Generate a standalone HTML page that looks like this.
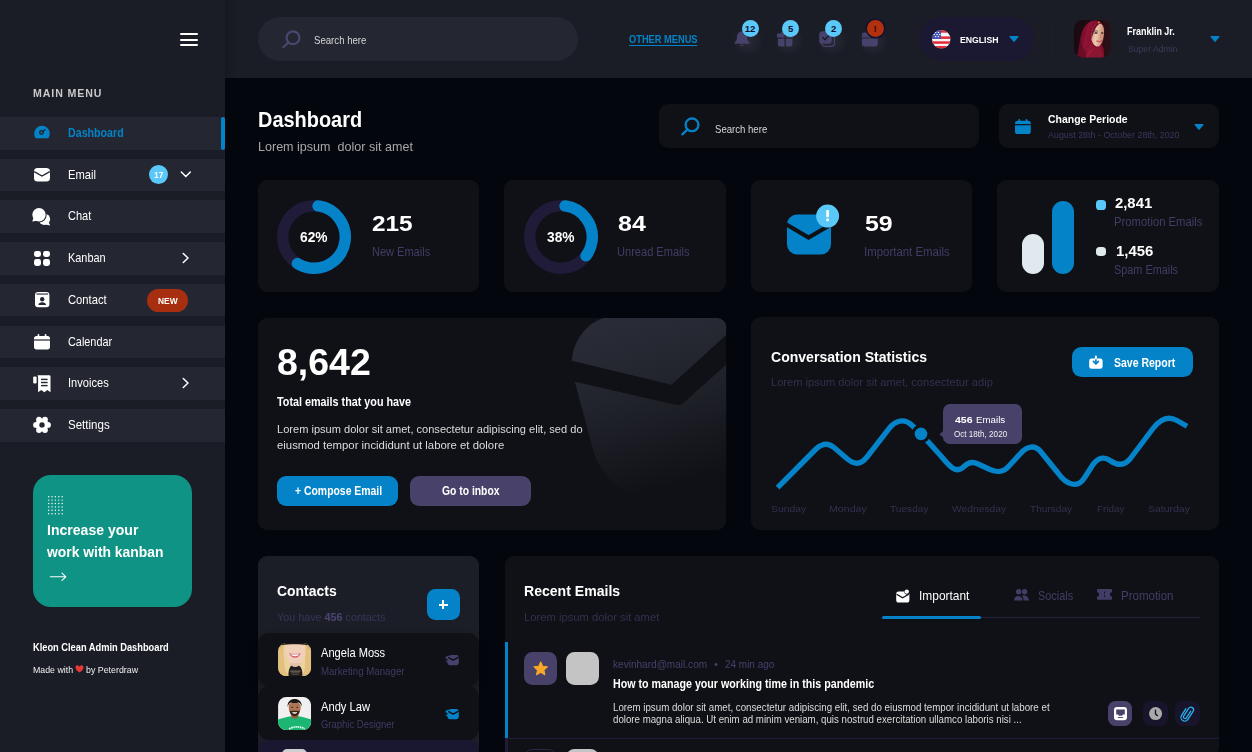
<!DOCTYPE html><html><head><meta charset="utf-8"><title>Dashboard</title><style>
html,body{margin:0;padding:0;background:#04060e;}
html{overflow:hidden;width:1252px;height:752px;}
body{width:1252px;height:752px;overflow:hidden;position:relative;font-family:"Liberation Sans", sans-serif;}
.a{position:absolute;}
.t{position:absolute;white-space:nowrap;line-height:1;transform-origin:0 0;}
svg{position:absolute;overflow:visible;}
#root{position:absolute;left:0;top:0;width:1252px;height:752px;overflow:hidden;}
</style></head><body><div id="root">
<div class="a" style="left:0px;top:0px;width:225px;height:752px;background:#1b1d26;border-radius:0px;"></div>
<div class="a" style="left:225px;top:0px;width:1027px;height:78px;background:#1b1d26;border-radius:0px;"></div>
<div class="a" style="left:225px;top:0;width:14px;height:78px;background:linear-gradient(90deg,rgba(0,0,0,0.16),rgba(0,0,0,0));"></div>
<div class="a" style="left:180px;top:33px;width:17.5px;height:2px;background:#fff;border-radius:1px;"></div>
<div class="a" style="left:180px;top:38.7px;width:17.5px;height:2px;background:#fff;border-radius:1px;"></div>
<div class="a" style="left:180px;top:44.3px;width:17.5px;height:2px;background:#fff;border-radius:1px;"></div>
<div class="a" style="left:0px;top:117px;width:225px;height:32.5px;background:#242731;border-radius:0px;"></div>
<div class="a" style="left:0px;top:158.7px;width:225px;height:32.5px;background:#242731;border-radius:0px;"></div>
<div class="a" style="left:0px;top:200.4px;width:225px;height:32.5px;background:#242731;border-radius:0px;"></div>
<div class="a" style="left:0px;top:242.2px;width:225px;height:32.5px;background:#242731;border-radius:0px;"></div>
<div class="a" style="left:0px;top:283.9px;width:225px;height:32.5px;background:#242731;border-radius:0px;"></div>
<div class="a" style="left:0px;top:325.6px;width:225px;height:32.5px;background:#242731;border-radius:0px;"></div>
<div class="a" style="left:0px;top:367.4px;width:225px;height:32.5px;background:#242731;border-radius:0px;"></div>
<div class="a" style="left:0px;top:409.1px;width:225px;height:32.5px;background:#242731;border-radius:0px;"></div>
<div class="a" style="left:221px;top:117px;width:4px;height:32.5px;background:#0483c8;border-radius:2px;"></div>
<div class="a" style="left:149px;top:164.8px;width:19.3px;height:19.3px;background:#5bc8fa;border-radius:10px;"></div>
<div class="a" style="left:146.6px;top:289px;width:41.3px;height:22.5px;background:#a72e0f;border-radius:12px;"></div>
<div class="a" style="left:34.4px;top:250.6px;width:7px;height:6.9px;background:#fff;border-radius:2.4px;"></div>
<div class="a" style="left:43.2px;top:250.6px;width:7px;height:6.9px;background:#fff;border-radius:2.4px;"></div>
<div class="a" style="left:34.4px;top:259.0px;width:7px;height:6.9px;background:#fff;border-radius:2.4px;"></div>
<div class="a" style="left:43.2px;top:259.0px;width:7px;height:6.9px;background:#fff;border-radius:2.4px;"></div>
<div class="a" style="left:32.6px;top:474.6px;width:159.6px;height:132.1px;background:#0e9384;border-radius:18px;"></div>
<div class="a" style="left:258px;top:17px;width:320px;height:44px;background:#242731;border-radius:22px;"></div>
<div class="a" style="left:733.0px;top:26.3px;width:30px;height:30px;border-radius:50%;background:radial-gradient(closest-side,rgba(70,74,96,0.30),rgba(70,74,96,0));"></div>
<div class="a" style="left:773.7px;top:26.3px;width:30px;height:30px;border-radius:50%;background:radial-gradient(closest-side,rgba(70,74,96,0.30),rgba(70,74,96,0));"></div>
<div class="a" style="left:816.7px;top:26.3px;width:30px;height:30px;border-radius:50%;background:radial-gradient(closest-side,rgba(70,74,96,0.30),rgba(70,74,96,0));"></div>
<div class="a" style="left:858px;top:26.3px;width:30px;height:30px;border-radius:50%;background:radial-gradient(closest-side,rgba(70,74,96,0.30),rgba(70,74,96,0));"></div>
<div class="a" style="left:918.7px;top:16.8px;width:115.1px;height:44.2px;background:#1b1932;border-radius:22.1px;"></div>
<div class="a" style="left:1052px;top:24px;width:1px;height:30px;background:#1e2029;border-radius:0px;"></div>
<div class="a" style="left:659.2px;top:104.4px;width:319.9px;height:43.8px;background:#101116;border-radius:9px;"></div>
<div class="a" style="left:999px;top:104.4px;width:220px;height:43.8px;background:#101116;border-radius:9px;"></div>
<div class="a" style="left:257.5px;top:179.8px;width:221.7px;height:112.6px;background:#101116;border-radius:9px;"></div>
<div class="a" style="left:504px;top:179.8px;width:221.7px;height:112.6px;background:#101116;border-radius:9px;"></div>
<div class="a" style="left:750.6px;top:179.8px;width:221.7px;height:112.6px;background:#101116;border-radius:9px;"></div>
<div class="a" style="left:997px;top:179.8px;width:221.7px;height:112.6px;background:#101116;border-radius:9px;"></div>
<div class="a" style="left:1022px;top:234.3px;width:21.9px;height:39.9px;background:#dfe9ee;border-radius:11px;"></div>
<div class="a" style="left:1052.3px;top:200.6px;width:21.5px;height:73.6px;background:#0483c8;border-radius:11px;"></div>
<div class="a" style="left:1095.8px;top:199.8px;width:9.8px;height:10px;background:#5bc8fa;border-radius:3.6px;"></div>
<div class="a" style="left:1095.8px;top:246.8px;width:9.8px;height:9.6px;background:#dfe9ee;border-radius:3.6px;"></div>
<div class="a" style="left:257.8px;top:317.8px;width:468.2px;height:212.2px;background:#101116;border-radius:9px;overflow:hidden;"></div>
<div class="a" style="left:277px;top:475.6px;width:121.3px;height:30.1px;background:#0483c8;border-radius:9px;"></div>
<div class="a" style="left:410px;top:475.6px;width:121.4px;height:30.1px;background:#48426a;border-radius:9px;"></div>
<div class="a" style="left:751.2px;top:317.4px;width:468px;height:213px;background:#101116;border-radius:9px;"></div>
<div class="a" style="left:1071.8px;top:346.8px;width:121.4px;height:30.7px;background:#0483c8;border-radius:9.5px;"></div>
<div class="a" style="left:942.7px;top:404px;width:78.9px;height:39.9px;background:#48426a;border-radius:7px;"></div>
<div class="a" style="left:257.6px;top:556px;width:221.5px;height:200px;background:#1c1e27;border-radius:9px;"></div>
<div class="a" style="left:426.5px;top:589.3px;width:33.2px;height:30.6px;background:#0483c8;border-radius:8.5px;"></div>
<div class="a" style="left:438.7px;top:603.6px;width:9px;height:2.1px;background:#fff;border-radius:0px;"></div>
<div class="a" style="left:442.15px;top:600.2px;width:2.1px;height:8.8px;background:#fff;border-radius:0px;"></div>
<div class="a" style="left:257.6px;top:633px;width:221.5px;height:52.9px;background:#101116;border-radius:11px;box-shadow:0 4px 8px rgba(0,0,0,0.25);"></div>
<div class="a" style="left:257.6px;top:686.2px;width:221.5px;height:53.6px;background:#101116;border-radius:11px;"></div>
<div class="a" style="left:257.6px;top:739.8px;width:221.5px;height:20px;background:#1a1730;border-radius:11px;"></div>
<div class="a" style="left:281.5px;top:749.4px;width:25px;height:10px;background:#cfcfcf;border-radius:6px;"></div>
<div class="a" style="left:504.6px;top:556px;width:714.8px;height:200px;background:#101116;border-radius:9px;"></div>
<div class="a" style="left:882px;top:616.5px;width:317.8px;height:1px;background:#25223d;border-radius:0px;"></div>
<div class="a" style="left:882px;top:616px;width:98.7px;height:3.2px;background:#0483c8;border-radius:1.5px;"></div>
<div class="a" style="left:504.6px;top:642.3px;width:3.4px;height:96.5px;background:#0483c8;border-radius:0px;"></div>
<div class="a" style="left:524px;top:652.4px;width:33px;height:33px;background:#48426a;border-radius:8.5px;"></div>
<div class="a" style="left:565.9px;top:652.4px;width:33px;height:33px;background:#c4c4c4;border-radius:8.5px;"></div>
<div class="a" style="left:504.6px;top:738px;width:714.8px;height:1px;background:#1f1c36;border-radius:0px;"></div>
<div class="a" style="left:504.6px;top:739px;width:3.4px;height:20px;background:#1f1c36;border-radius:0px;"></div>
<div class="a" style="left:524px;top:749px;width:33px;height:20px;background:#111217;border-radius:8.5px;border:1px solid #2b2846;box-sizing:border-box;"></div>
<div class="a" style="left:565.9px;top:749px;width:33px;height:20px;background:#c4c4c4;border-radius:8.5px;"></div>
<div class="a" style="left:1107.9px;top:701px;width:24.6px;height:24.8px;background:#48426a;border-radius:7.5px;"></div>
<div class="a" style="left:1143.1px;top:701px;width:24.6px;height:24.8px;background:#17142c;border-radius:7.5px;"></div>
<div class="a" style="left:1175.2px;top:701px;width:24.6px;height:24.8px;background:#17142c;border-radius:7.5px;"></div>
<svg style="left:180px;top:170px" width="12" height="9" viewBox="0 0 12 9"><path d="M1.3 2 L5.8 6.6 L10.3 2" fill="none" stroke="#fff" stroke-width="1.5" stroke-linecap="round" stroke-linejoin="round"/></svg>
<svg style="left:181px;top:252.2px" width="9" height="12" viewBox="0 0 9 12"><path d="M2.3 1.5 L7 6 L2.3 10.5" fill="none" stroke="#fff" stroke-width="1.5" stroke-linecap="round" stroke-linejoin="round"/></svg>
<svg style="left:181px;top:377.4px" width="9" height="12" viewBox="0 0 9 12"><path d="M2.3 1.5 L7 6 L2.3 10.5" fill="none" stroke="#fff" stroke-width="1.5" stroke-linecap="round" stroke-linejoin="round"/></svg>
<svg style="left:34px;top:125px" width="16" height="13.4" viewBox="0 0 16 13.4"><path d="M1.7 13.2 A7.8 7.8 0 1 1 14.3 13.2 Z" fill="#0483c8"/><circle cx="7.5" cy="7.6" r="1.75" fill="none" stroke="#242731" stroke-width="1.5"/><path d="M8.9 6.4 L10.9 4.7" stroke="#242731" stroke-width="1.5" stroke-linecap="round"/></svg>
<svg style="left:34px;top:168px" width="16" height="14" viewBox="0 0 16 14"><rect x="0" y="0" width="16" height="13.6" rx="3.6" fill="#fff"/><path d="M0.2 3.6 L8 8 L15.8 3.6" fill="none" stroke="#242731" stroke-width="1.4"/></svg>
<svg style="left:32.4px;top:207.5px" width="19" height="18" viewBox="0 0 19 18"><circle cx="12.4" cy="11.2" r="5.7" fill="#fff"/><path d="M16.6 14.2 L18.2 17.4 L13.6 16.4 Z" fill="#fff"/><circle cx="7" cy="6.7" r="7.7" fill="#242731"/><circle cx="7" cy="6.7" r="6.7" fill="#fff"/><path d="M1.6 9.8 L0.2 13.6 L5 12.8 Z" fill="#fff"/></svg>
<svg style="left:35.3px;top:292.3px" width="15" height="16" viewBox="0 0 15 16"><rect x="0" y="0" width="14.4" height="15.2" rx="3" fill="#fff"/><rect x="1.4" y="1.5" width="11.6" height="1.1" fill="#242731"/><circle cx="7.2" cy="7.2" r="2.2" fill="#242731"/><path d="M3.4 13 C3.4 9.4 11 9.4 11 13 Z" fill="#242731"/></svg>
<svg style="left:34px;top:334px" width="16" height="16" viewBox="0 0 16 16"><rect x="0" y="2" width="16" height="13.4" rx="2.6" fill="#fff"/><rect x="3.6" y="0" width="1.7" height="4" rx="0.8" fill="#fff"/><rect x="10.7" y="0" width="1.7" height="4" rx="0.8" fill="#fff"/><rect x="0" y="5.4" width="16" height="1.2" fill="#242731"/></svg>
<svg style="left:32.8px;top:374.8px" width="18" height="18" viewBox="0 0 18 18"><path d="M4.5 0.2 H16.2 Q17.5 0.2 17.5 1.6 V17.2 L14.4 14.9 L11.3 17.2 L8.2 14.9 L5.1 17.2 V3 Q5 0.6 4.5 0.2 Z" fill="#fff"/><rect x="0.2" y="1.4" width="3.4" height="7" rx="1.2" fill="#fff"/><rect x="8" y="3.7" width="6.6" height="1.4" fill="#242731"/><rect x="8" y="6.8" width="6.6" height="1.4" fill="#242731"/><rect x="8" y="9.9" width="6.6" height="1.4" fill="#242731"/></svg>
<svg style="left:32.5px;top:416.4px" width="18" height="18" viewBox="0 0 18 18"><circle cx="9" cy="8.9" r="6.5" fill="#fff"/><circle cx="15.00" cy="8.90" r="2.9" fill="#fff"/><circle cx="12.00" cy="14.10" r="2.9" fill="#fff"/><circle cx="6.00" cy="14.10" r="2.9" fill="#fff"/><circle cx="3.00" cy="8.90" r="2.9" fill="#fff"/><circle cx="6.00" cy="3.70" r="2.9" fill="#fff"/><circle cx="12.00" cy="3.70" r="2.9" fill="#fff"/><circle cx="9" cy="8.9" r="2.7" fill="#242731"/></svg>
<svg style="left:48px;top:496px" width="16" height="19" viewBox="0 0 16 19"><circle cx="0.70" cy="0.70" r="0.72" fill="#ffffff"/><circle cx="4.06" cy="0.70" r="0.72" fill="#ffffff"/><circle cx="7.42" cy="0.70" r="0.72" fill="#ffffff"/><circle cx="10.78" cy="0.70" r="0.72" fill="#ffffff"/><circle cx="14.14" cy="0.70" r="0.72" fill="#ffffff"/><circle cx="0.70" cy="4.10" r="0.72" fill="#ffffff"/><circle cx="4.06" cy="4.10" r="0.72" fill="#ffffff"/><circle cx="7.42" cy="4.10" r="0.72" fill="#ffffff"/><circle cx="10.78" cy="4.10" r="0.72" fill="#ffffff"/><circle cx="14.14" cy="4.10" r="0.72" fill="#ffffff"/><circle cx="0.70" cy="7.50" r="0.72" fill="#ffffff"/><circle cx="4.06" cy="7.50" r="0.72" fill="#ffffff"/><circle cx="7.42" cy="7.50" r="0.72" fill="#ffffff"/><circle cx="10.78" cy="7.50" r="0.72" fill="#ffffff"/><circle cx="14.14" cy="7.50" r="0.72" fill="#ffffff"/><circle cx="0.70" cy="10.90" r="0.72" fill="#ffffff"/><circle cx="4.06" cy="10.90" r="0.72" fill="#ffffff"/><circle cx="7.42" cy="10.90" r="0.72" fill="#ffffff"/><circle cx="10.78" cy="10.90" r="0.72" fill="#ffffff"/><circle cx="14.14" cy="10.90" r="0.72" fill="#ffffff"/><circle cx="0.70" cy="14.30" r="0.72" fill="#ffffff"/><circle cx="4.06" cy="14.30" r="0.72" fill="#ffffff"/><circle cx="7.42" cy="14.30" r="0.72" fill="#ffffff"/><circle cx="10.78" cy="14.30" r="0.72" fill="#ffffff"/><circle cx="14.14" cy="14.30" r="0.72" fill="#ffffff"/><circle cx="0.70" cy="17.70" r="0.72" fill="#ffffff"/><circle cx="4.06" cy="17.70" r="0.72" fill="#ffffff"/><circle cx="7.42" cy="17.70" r="0.72" fill="#ffffff"/><circle cx="10.78" cy="17.70" r="0.72" fill="#ffffff"/><circle cx="14.14" cy="17.70" r="0.72" fill="#ffffff"/></svg>
<svg style="left:50px;top:572px" width="17" height="10" viewBox="0 0 17 10"><path d="M0.3 4.8 H15.6 M12 1.2 L15.8 4.8 L12 8.4" fill="none" stroke="#fff" stroke-width="1.1" stroke-linecap="round" stroke-linejoin="round"/></svg>
<svg style="left:75.3px;top:665px" width="9" height="8" viewBox="0 0 9 8"><path d="M4.5 7.6 C-1.5 3.6 0.4 -0.4 2.6 0.2 C3.6 0.4 4.2 1.1 4.5 1.7 C4.8 1.1 5.4 0.4 6.4 0.2 C8.6 -0.4 10.5 3.6 4.5 7.6 Z" fill="#e53935"/></svg>
<svg style="left:281.6px;top:30.2px" width="20" height="19" viewBox="0 0 20 19"><circle cx="11" cy="7.8" r="6.4" fill="none" stroke="#4b4571" stroke-width="2.2"/><path d="M6.3 12.6 L1.3 17.3" stroke="#4b4571" stroke-width="2.2" stroke-linecap="round"/></svg>
<svg style="left:734.3px;top:30.8px" width="16" height="16" viewBox="0 0 16 16"><path d="M8 0.4 C4.6 0.4 3 3 3 6 C3 9.4 1.6 10.6 0.6 11.6 Q0 12.6 1.2 12.8 H14.8 Q16 12.6 15.4 11.6 C14.4 10.6 13 9.4 13 6 C13 3 11.4 0.4 8 0.4 Z" fill="#47426b"/><path d="M5.8 13.8 Q8 16.4 10.2 13.8 Z" fill="#47426b"/></svg>
<svg style="left:777.2px;top:31.4px" width="16.4" height="16" viewBox="0 0 16.4 16"><path d="M1.4 2.6 H7.5 V6.4 H0 V4 Q0 2.6 1.4 2.6 Z" fill="#47426b"/><path d="M8.9 2.6 H15 Q16.4 2.6 16.4 4 V6.4 H8.9 Z" fill="#47426b"/><path d="M1 7.7 H7.5 V15.6 H3 Q1 15.6 1 13.6 Z" fill="#47426b"/><path d="M8.9 7.7 H15.4 V13.6 Q15.4 15.6 13.4 15.6 H8.9 Z" fill="#47426b"/><path d="M8.2 2.8 C5.4 -0.8 3 1.4 5.2 2.9 Z M8.2 2.8 C11 -0.8 13.4 1.4 11.2 2.9 Z" fill="#47426b"/></svg>
<svg style="left:818.6px;top:30.8px" width="16" height="16" viewBox="0 0 16 16"><rect x="2.6" y="2.8" width="12.8" height="12.6" rx="3.4" fill="none" stroke="#47426b" stroke-width="1.2"/><rect x="0.2" y="0.2" width="12.6" height="12.6" rx="3.4" fill="#47426b"/><path d="M3.8 6.6 L6 8.8 L9.6 4.6" fill="none" stroke="#1b1d26" stroke-width="1.4" stroke-linecap="round" stroke-linejoin="round"/></svg>
<svg style="left:861.5px;top:31.8px" width="16" height="15" viewBox="0 0 16 15"><path d="M0 3 Q0 0.6 2.4 0.6 H5.6 L7.2 2.4 H13.4 Q15.8 2.4 15.8 4.8 V5.4 H0 Z" fill="#47426b"/><path d="M0 6.6 H15.8 V12 Q15.8 14.4 13.4 14.4 H2.4 Q0 14.4 0 12 Z" fill="#47426b"/></svg>
<svg style="left:931.6px;top:30.2px" width="18.6" height="18.6" viewBox="0 0 18.6 18.6"><defs><clipPath id="fc"><circle cx="9.3" cy="9.3" r="9.25"/></clipPath></defs><g clip-path="url(#fc)"><rect width="18.6" height="18.6" fill="#f4f4f4"/><g fill="#e32b3a"><rect y="0" width="18.6" height="2.7"/><rect y="6.4" width="18.6" height="2.5"/><rect y="11.3" width="18.6" height="2.5"/><rect y="16" width="18.6" height="2.6"/></g><rect width="9" height="8.9" fill="#3f51b5"/><g fill="#fff"><rect x="3" y="1.9" width="1.3" height="1.1"/><rect x="5.8" y="1.9" width="1.3" height="1.1"/><rect x="1.6" y="4" width="1.3" height="1.1"/><rect x="4.4" y="4" width="1.3" height="1.1"/><rect x="7" y="4" width="1.3" height="1.1"/><rect x="3" y="6.1" width="1.3" height="1.1"/><rect x="5.8" y="6.1" width="1.3" height="1.1"/></g></g></svg>
<svg style="left:1009px;top:36.4px" width="10" height="5.9" viewBox="0 0 10 5.9"><path d="M1 0.6 H9 L5 5.3 Z" fill="#0483c8" stroke="#0483c8" stroke-width="1.1" stroke-linejoin="round"/></svg>
<svg style="left:1074.1px;top:20px" width="37" height="37.4" viewBox="0 0 37 37.4"><defs><clipPath id="av0"><rect width="37" height="37.4" rx="8.5"/></clipPath><filter id="bl0" x="-10%" y="-10%" width="120%" height="120%"><feGaussianBlur stdDeviation="0.55"/></filter><linearGradient id="g0" x1="0" y1="0" x2="1" y2="0"><stop offset="0" stop-color="#1a0a0f"/><stop offset="0.6" stop-color="#1f0c12"/><stop offset="1" stop-color="#2b1117"/></linearGradient><linearGradient id="hj" x1="0" y1="0" x2="1" y2="0.3"><stop offset="0" stop-color="#4a0a1c"/><stop offset="0.45" stop-color="#8e1233"/><stop offset="1" stop-color="#7a0f2c"/></linearGradient><linearGradient id="sk" x1="0" y1="0" x2="1" y2="0.2"><stop offset="0" stop-color="#c9957c"/><stop offset="0.45" stop-color="#efc9b0"/><stop offset="1" stop-color="#c58e78"/></linearGradient></defs><g clip-path="url(#av0)"><rect width="37" height="37.4" fill="url(#g0)"/><g filter="url(#bl0)"><path d="M2 38 C5 33 5 24 6.8 16 C8.5 7 14 0.6 21 0.4 C25.5 0.3 28.5 3 29.5 7 C31 13 30 20 28 25 C30 28 30.5 32 29.5 38 Z" fill="url(#hj)"/><path d="M6.8 16 C7 26 10 31 17 38 L2 38 C5 33 5.5 24 6.8 16 Z" fill="#5c0c22" opacity="0.7"/><path d="M18.2 11 C19.5 5.5 23 2.8 26 3.4 C29.5 4.2 30.6 9 30 14 C29.4 19.5 27.6 24.5 25 26.2 C22 27.6 19 24.5 17.6 20.5 C16.8 17.4 17.4 14 18.2 11 Z" fill="url(#sk)"/><path d="M18.2 11 C19.4 5 23.5 2 26.6 3 C24 4.6 21.6 7.4 20 11.6 C19 14.6 18 17 17.5 19.6 C17 16.4 17.5 13.6 18.2 11 Z" fill="#7c0f2d"/><ellipse cx="22" cy="13" rx="1.7" ry="0.8" fill="#2a1a18"/><ellipse cx="28.2" cy="13" rx="1.3" ry="0.75" fill="#2a1a18"/><path d="M20 11.4 Q22 10.2 24 11.2" stroke="#3a2420" stroke-width="0.7" fill="none"/><path d="M22.6 21 Q25.4 22.8 28 20.8 Q25.4 22 22.6 21 Z" fill="#c4505a" stroke="#c4505a" stroke-width="0.8"/><path d="M26.4 14 L27 18 L25.4 18.2" stroke="#b98068" stroke-width="0.7" fill="none"/><path d="M17.6 20.5 C19 26 23 29 26 26 C28 30 29 33 29.5 38 L12 38 C11 30 14 24 17.6 20.5 Z" fill="#8a1232"/><path d="M12 38 C13 32 17 28 22 29 C18 31 15 34 14.5 38 Z" fill="#a3173c" opacity="0.8"/><circle cx="24.8" cy="2.3" r="0.9" fill="#d9a73a"/></g></g></svg>
<svg style="left:1209.7px;top:35.9px" width="10" height="5.9" viewBox="0 0 10 5.9"><path d="M1 0.6 H9 L5 5.3 Z" fill="#0483c8" stroke="#0483c8" stroke-width="1.1" stroke-linejoin="round"/></svg>
<svg style="left:680.6px;top:117.1px" width="20" height="19" viewBox="0 0 20 19"><circle cx="11" cy="7.8" r="6.4" fill="none" stroke="#0483c8" stroke-width="2.3"/><path d="M6.3 12.6 L1.3 17.3" stroke="#0483c8" stroke-width="2.3" stroke-linecap="round"/></svg>
<svg style="left:1015.3px;top:119px" width="16" height="15.2" viewBox="0 0 16 15.2"><rect x="0" y="1.8" width="15.8" height="13.2" rx="2.6" fill="#0483c8"/><rect x="3.4" y="0" width="1.7" height="4" rx="0.8" fill="#0483c8"/><rect x="10.7" y="0" width="1.7" height="4" rx="0.8" fill="#0483c8"/><rect x="0" y="5.1" width="15.8" height="1.2" fill="#101116"/></svg>
<svg style="left:1193.8px;top:123.8px" width="10" height="5.9" viewBox="0 0 10 5.9"><path d="M1 0.6 H9 L5 5.3 Z" fill="#0483c8" stroke="#0483c8" stroke-width="1.1" stroke-linejoin="round"/></svg>
<svg style="left:273.9px;top:196.5px" width="80" height="80" viewBox="-40 -40 80 80"><circle r="31.3" fill="none" stroke="#1f1b38" stroke-width="11.4"/><circle r="31.3" fill="none" stroke="#0483c8" stroke-width="11.4" stroke-linecap="round" stroke-dasharray="111.70 196.66" transform="rotate(-82.6)"/></svg>
<svg style="left:520.7px;top:196.5px" width="80" height="80" viewBox="-40 -40 80 80"><circle r="31.3" fill="none" stroke="#1f1b38" stroke-width="11.4"/><circle r="31.3" fill="none" stroke="#0483c8" stroke-width="11.4" stroke-linecap="round" stroke-dasharray="65.29 196.66" transform="rotate(-82.6)"/></svg>
<svg style="left:786.6px;top:203px" width="56" height="52" viewBox="0 0 56 52"><rect x="0" y="11.6" width="44" height="39.8" rx="10" fill="#0483c8"/><path d="M-1 21.3 L21.6 34.6 L45 21" fill="none" stroke="#101116" stroke-width="4.2"/><circle cx="40.6" cy="13.1" r="11.5" fill="#5bc8fa"/><rect x="39.3" y="7" width="2.6" height="7.2" rx="0.6" fill="#fff"/><rect x="39.3" y="15.6" width="2.6" height="2.6" rx="0.6" fill="#fff"/></svg>
<svg style="left:257.8px;top:317.8px" width="468.2" height="212.2" viewBox="257.8 317.8 468.2 212.2"><defs><clipPath id="bc"><rect x="257.8" y="317.8" width="468.2" height="212.2" rx="9"/></clipPath><linearGradient id="eg" gradientUnits="userSpaceOnUse" x1="640" y1="318" x2="690" y2="480"><stop offset="0" stop-color="#292b36"/><stop offset="0.4" stop-color="#22242d"/><stop offset="1" stop-color="#101116"/></linearGradient></defs><g clip-path="url(#bc)"><path d="M571.6 360.5 C573 338 590 318 612 316 L740 316 L740 322 L671.3 384.5 Z" fill="url(#eg)"/><path d="M574.6 381.5 L676.4 404.7 Q680 405.5 683 403 L740 352 L740 500 L650 500 C612 490 597 468 592 446 Z" fill="url(#eg)"/></g></svg>
<svg style="left:1089.4px;top:356px" width="14" height="13" viewBox="0 0 14 13"><path d="M2.6 2.4 H11.2 Q13.6 2.4 13.6 4.8 V10.4 Q13.6 12.8 11.2 12.8 H2.6 Q0.2 12.8 0.2 10.4 V4.8 Q0.2 2.4 2.6 2.4 Z" fill="#fff"/><path d="M6.9 0 V7.4 M4.4 5.4 L6.9 8 L9.4 5.4" fill="none" stroke="#0483c8" stroke-width="1.7" stroke-linecap="round" stroke-linejoin="round"/><path d="M6.9 0.4 V2.6" stroke="#fff" stroke-width="1.9" stroke-linecap="round"/></svg>
<svg style="left:0;top:0" width="1252" height="752" viewBox="0 0 1252 752"><path d="M777.6 487.6 L816 449 C822 443.5 828 442.5 834 447.5 L848 459.5 C855 465 861 464.5 867 457 L889 428.6 C895.6 420 904.6 418.4 911.6 425 L921 433.9 L941 456 C948 464.5 956 475 964 466.5 C968 462.5 973 461.5 978 464 L990 469.5 C997 472.5 1003 473 1009 466 L1021 453 C1027 446 1035 444.5 1041 452 L1058 473 C1066 484.5 1078 489.5 1085 477 L1093 464.5 C1098 458 1104 456 1110 460.5 C1117 465.5 1124 466 1130 459 L1153 428.5 C1160 419.5 1168 415.5 1177 420.5 L1187 426.2" fill="none" stroke="#0483c8" stroke-width="5.35" stroke-linejoin="round"/><circle cx="921" cy="433.9" r="9.4" fill="#101116"/><circle cx="921" cy="433.9" r="6.3" fill="#0483c8"/><path d="M939.4 434.3 L945 429.5 V439 Z" fill="#48426a"/></svg>
<svg style="left:277.5px;top:643.4px" width="33.2" height="33.1" viewBox="0 0 33 33"><defs><clipPath id="av1"><rect width="33" height="33" rx="8.2"/></clipPath><filter id="bl1" x="-10%" y="-10%" width="120%" height="120%"><feGaussianBlur stdDeviation="0.5"/></filter><linearGradient id="hr" x1="0" y1="0" x2="1" y2="0"><stop offset="0" stop-color="#c9994f"/><stop offset="0.2" stop-color="#ecd29c"/><stop offset="0.8" stop-color="#ecd29c"/><stop offset="1" stop-color="#c9994f"/></linearGradient></defs><g clip-path="url(#av1)"><rect width="33" height="33" fill="url(#hr)"/><g filter="url(#bl1)"><path d="M7.6 -1 H26.6 C27.6 8 26.6 16 22.4 19.6 C19 22.2 14.8 22.2 11.6 19.6 C7.4 16 6.6 8 7.6 -1 Z" fill="#f0d0b8"/><path d="M12 20 H22 V25 H12 Z" fill="#e6c1a8"/><path d="M10.4 33 C10.4 26 12 23.4 13.6 22.8 C15.6 24.4 18.6 24.4 20.6 22.8 C22.6 23.4 24.4 26 24.4 33 Z" fill="#241f1c"/><path d="M0 2 C5 6 6 14 6.4 22 C6.8 27 8.6 30 10.4 33 H0 Z" fill="#e3c07f"/><path d="M33 2 C28 6 27.4 14 27 22 C26.6 27 25.6 30 24.4 33 H33 Z" fill="#e3c07f"/><path d="M11.2 10.2 Q16.9 11.6 22.6 10.2 Q21 14.6 16.9 14.6 Q12.8 14.6 11.2 10.2 Z" fill="#d55f74"/><path d="M12.4 10.9 Q16.9 12 21.4 10.9 Q20 13.2 16.9 13.2 Q13.8 13.2 12.4 10.9 Z" fill="#fff"/><path d="M4 -1 H29 V2.2 C24 0.8 9 0.8 4 2.2 Z" fill="#1d1613"/><rect x="12" y="27.6" width="10.4" height="0.9" fill="#8a8178"/><rect x="13" y="29.4" width="8.4" height="0.8" fill="#6f675f"/><rect x="14" y="31" width="6.4" height="0.7" fill="#5a534c"/></g></g></svg>
<svg style="left:277.5px;top:696.8px" width="33.2" height="33.1" viewBox="0 0 33 33"><defs><clipPath id="av2"><rect width="33" height="33" rx="8.2"/></clipPath><filter id="bl2" x="-10%" y="-10%" width="120%" height="120%"><feGaussianBlur stdDeviation="0.45"/></filter></defs><g clip-path="url(#av2)"><rect width="33" height="33" fill="#f0f0f0"/><g filter="url(#bl2)"><path d="M-1 34 V23 C2 21.6 6 20.6 10 19.8 L13.4 19.2 C15.4 21.4 18.2 21.4 20.2 19.2 L23.6 19.8 C27 20.6 31 21.6 34 23 V34 Z" fill="#1fb673"/><path d="M13.2 16 H20.2 V20 C18.4 22 15 22 13.2 20 Z" fill="#96603f"/><path d="M10.6 9.4 C10.6 3.4 22.6 3.4 22.6 9.4 C22.6 14 20.6 19 16.6 19 C12.6 19 10.6 14 10.6 9.4 Z" fill="#ad7552"/><path d="M9.6 9.6 C8.6 -0.6 24.6 -0.6 23.6 9.6 C22.8 6.6 21.4 5.6 20.2 5.4 C17.6 6.4 14.6 6.2 12.8 5.4 C11.6 5.8 10.4 7 9.6 9.6 Z" fill="#1b1512"/><path d="M11.6 12.8 C12.2 14.6 13.6 13.8 16.6 13.8 C19.6 13.8 21 14.6 21.6 12.8 C21.6 16.6 19.8 19.2 16.6 19.2 C13.4 19.2 11.6 16.6 11.6 12.8 Z" fill="#3a2519"/><path d="M14 14.9 Q16.6 15.5 19.2 14.9 Q18.4 16.8 16.6 16.8 Q14.8 16.8 14 14.9 Z" fill="#fff"/><ellipse cx="14.1" cy="10.2" rx="0.9" ry="0.55" fill="#2a1810"/><ellipse cx="19.1" cy="10.2" rx="0.9" ry="0.55" fill="#2a1810"/><path d="M11 31.8 Q18.6 27.8 26.4 31.6" stroke="#f2fff8" stroke-width="1.7" fill="none" stroke-dasharray="1.5 0.7"/></g></g></svg>
<svg style="left:445px;top:654.7px" width="14" height="10.4" viewBox="0 0 14 10.4"><path d="M1.6 1.2 L6.4 0.1 H11.4 Q13.8 0.1 13.8 2.4 V7.8 Q13.8 10.2 11.4 10.2 H4.8 Q2.4 10.2 2.4 7.8 V7 L0.2 6.2 L2.4 5.4 V4 L0 3 Z" fill="#47426b"/><path d="M3.2 2.3 L8.2 5.2 L13.6 2.2" fill="none" stroke="#101116" stroke-width="1.5"/></svg>
<svg style="left:445px;top:709px" width="14" height="10.4" viewBox="0 0 14 10.4"><path d="M1.6 1.2 L6.4 0.1 H11.4 Q13.8 0.1 13.8 2.4 V7.8 Q13.8 10.2 11.4 10.2 H4.8 Q2.4 10.2 2.4 7.8 V7 L0.2 6.2 L2.4 5.4 V4 L0 3 Z" fill="#0483c8"/><path d="M3.2 2.3 L8.2 5.2 L13.6 2.2" fill="none" stroke="#101116" stroke-width="1.5"/></svg>
<svg style="left:895.8px;top:588.6px" width="14" height="14" viewBox="0 0 14 14"><path d="M0.2 5 Q0.2 2.6 2.6 2.6 H8.2 A3 3 0 0 0 13.4 4.8 V11 Q13.4 13.6 10.8 13.6 H2.8 Q0.2 13.6 0.2 11 Z" fill="#fff"/><circle cx="10.8" cy="2.6" r="2.2" fill="#fff"/><path d="M0.6 5.2 L6.6 8.8 L12.8 5.2" fill="none" stroke="#101116" stroke-width="1.3"/></svg>
<svg style="left:1013.8px;top:589.4px" width="15" height="12" viewBox="0 0 15 12"><circle cx="4.6" cy="2.8" r="2.7" fill="#423d66"/><circle cx="10.6" cy="2.8" r="2.7" fill="#423d66"/><path d="M0 11.4 C0 5.4 8.4 5.4 8.6 11.4 Z" fill="#423d66"/><path d="M9.6 11.4 C9.6 9 8.8 7.6 7.8 6.8 C11 5.6 14.8 7 14.8 11.4 Z" fill="#423d66"/></svg>
<svg style="left:1097px;top:589.4px" width="15" height="11" viewBox="0 0 15 11"><path d="M0.8 0 H14.2 Q15 0 15 0.8 V3.2 A2.2 2.2 0 0 0 15 7.6 V10 Q15 10.8 14.2 10.8 H0.8 Q0 10.8 0 10 V7.6 A2.2 2.2 0 0 0 0 3.2 V0.8 Q0 0 0.8 0 Z" fill="#423d66"/><rect x="7.1" y="2.6" width="0.9" height="2.2" fill="#101116"/><rect x="7.1" y="6" width="0.9" height="2.2" fill="#101116"/></svg>
<svg style="left:532.9px;top:661.2px" width="15.4" height="15.4" viewBox="0 0 24 24"><path d="M12 1.6 L15.1 8.2 L22.4 9.1 L17 14.1 L18.5 21.4 L12 17.8 L5.5 21.4 L7 14.1 L1.6 9.1 L8.9 8.2 Z" fill="#f9a825" stroke="#f9a825" stroke-width="1.6" stroke-linejoin="round"/></svg>
<svg style="left:1113.8px;top:706.8px" width="13" height="13.4" viewBox="0 0 13 13.4"><rect x="0" y="0" width="13" height="13.2" rx="3" fill="#fff"/><path d="M2.2 2.4 H10.8 V7.4 H8.8 L8.2 8.8 H4.8 L4.2 7.4 H2.2 Z" fill="#48426a"/><rect x="3.8" y="10" width="5.4" height="0.9" fill="#48426a"/></svg>
<svg style="left:1148.8px;top:706.7px" width="13.2" height="13.2" viewBox="0 0 13.2 13.2"><circle cx="6.6" cy="6.6" r="6.5" fill="#a9a9a9"/><path d="M6.5 3.2 V7 L8.4 8.6" fill="none" stroke="#17142c" stroke-width="1.4" stroke-linecap="round"/></svg>
<svg style="left:1175.2px;top:701px" width="24.6" height="24.8" viewBox="-12.3 -12.4 24.6 24.8"><path d="M1.5 -3.6 V4 A1.5 1.5 0 0 1 -1.5 4 V-4.6 A2.5 2.5 0 0 1 3.5 -4.6 V4.4 A3.5 3.5 0 0 1 -3.5 4.4 V-3" fill="none" stroke="#2bb5f5" stroke-width="1.15" stroke-linecap="round" transform="rotate(33) scale(1.07)"/></svg>
<div class="t" style="left:33.00px;top:88.40px;font-size:11.8px;font-weight:700;color:#c9c9cb;letter-spacing:1px;transform:scaleX(0.8989);">MAIN MENU</div>
<div class="t" style="left:68.00px;top:126.00px;font-size:13px;font-weight:700;color:#0483c8;transform:scaleX(0.8201);">Dashboard</div>
<div class="t" style="left:68.00px;top:167.74px;font-size:13px;font-weight:400;color:#ffffff;transform:scaleX(0.8608);">Email</div>
<div class="t" style="left:68.00px;top:209.48px;font-size:13px;font-weight:400;color:#ffffff;transform:scaleX(0.8479);">Chat</div>
<div class="t" style="left:68.00px;top:251.22px;font-size:13px;font-weight:400;color:#ffffff;transform:scaleX(0.8408);">Kanban</div>
<div class="t" style="left:68.00px;top:292.96px;font-size:13px;font-weight:400;color:#ffffff;transform:scaleX(0.8634);">Contact</div>
<div class="t" style="left:68.00px;top:334.70px;font-size:13px;font-weight:400;color:#ffffff;transform:scaleX(0.8356);">Calendar</div>
<div class="t" style="left:68.00px;top:376.44px;font-size:13px;font-weight:400;color:#ffffff;transform:scaleX(0.8530);">Invoices</div>
<div class="t" style="left:68.00px;top:418.18px;font-size:13px;font-weight:400;color:#ffffff;transform:scaleX(0.8873);">Settings</div>
<div class="t" style="left:153.80px;top:170.80px;font-size:9px;font-weight:700;color:#fff;transform:scaleX(0.9355);">17</div>
<div class="t" style="left:157.50px;top:296.70px;font-size:8.9px;font-weight:700;color:#fff;transform:scaleX(0.9444);">NEW</div>
<div class="t" style="left:46.60px;top:522.40px;font-size:15.2px;font-weight:700;color:#fff;transform:scaleX(0.9248);">Increase your</div>
<div class="t" style="left:46.60px;top:544.20px;font-size:15.2px;font-weight:700;color:#fff;transform:scaleX(0.9138);">work with kanban</div>
<div class="t" style="left:32.60px;top:643.40px;font-size:10.4px;font-weight:700;color:#fff;transform:scaleX(0.8927);">Kleon Clean Admin Dashboard</div>
<div class="t" style="left:32.60px;top:665.70px;font-size:9.2px;font-weight:400;color:#f0f0f0;transform:scaleX(0.9570);">Made with</div>
<div class="t" style="left:86.30px;top:665.70px;font-size:9.2px;font-weight:400;color:#f0f0f0;transform:scaleX(0.9619);">by Peterdraw</div>
<div class="t" style="left:313.70px;top:34.50px;font-size:11px;font-weight:400;color:#d6d6d8;transform:scaleX(0.8747);">Search here</div>
<div class="t" style="left:629.30px;top:34.20px;font-size:10.6px;font-weight:700;color:#0483c8;transform:scaleX(0.8753);border-bottom:1.2px solid #0483c8;padding-bottom:0.6px;">OTHER MENUS</div>
<div class="t" style="left:959.60px;top:35.20px;font-size:9.9px;font-weight:700;color:#fff;transform:scaleX(0.8791);">ENGLISH</div>
<div class="t" style="left:1127.00px;top:27.10px;font-size:10.1px;font-weight:700;color:#fff;transform:scaleX(0.8876);">Franklin Jr.</div>
<div class="t" style="left:1127.60px;top:44.10px;font-size:9.5px;font-weight:400;color:#3d3a5c;transform:scaleX(0.9077);">Super Admin</div>
<div class="t" style="left:258.20px;top:109.20px;font-size:21.6px;font-weight:700;color:#fff;transform:scaleX(0.9233);">Dashboard</div>
<div class="t" style="left:258.00px;top:141.40px;font-size:12.2px;font-weight:400;color:#a7a7a9;transform:scaleX(1.0299);">Lorem ipsum&nbsp; dolor sit amet</div>
<div class="t" style="left:715.40px;top:124.10px;font-size:11px;font-weight:400;color:#d6d6d8;transform:scaleX(0.8714);">Search here</div>
<div class="t" style="left:1048.00px;top:112.60px;font-size:11.6px;font-weight:700;color:#fff;transform:scaleX(0.9024);">Change Periode</div>
<div class="t" style="left:1048.00px;top:131.20px;font-size:8.8px;font-weight:400;color:#3a365e;transform:scaleX(1.0113);">August 28th - October 28th, 2020</div>
<div class="t" style="left:300.40px;top:230.00px;font-size:14.6px;font-weight:700;color:#fff;transform:scaleX(0.9425);">62%</div>
<div class="t" style="left:547.00px;top:230.00px;font-size:14.6px;font-weight:700;color:#fff;transform:scaleX(0.9425);">38%</div>
<div class="t" style="left:371.90px;top:212.40px;font-size:22.7px;font-weight:700;color:#fff;transform:scaleX(1.0745);">215</div>
<div class="t" style="left:371.70px;top:245.80px;font-size:12px;font-weight:400;color:#423d66;transform:scaleX(0.9179);">New Emails</div>
<div class="t" style="left:617.50px;top:212.40px;font-size:22.7px;font-weight:700;color:#fff;transform:scaleX(1.1002);">84</div>
<div class="t" style="left:617.40px;top:245.80px;font-size:12px;font-weight:400;color:#423d66;transform:scaleX(0.9219);">Unread Emails</div>
<div class="t" style="left:864.50px;top:212.40px;font-size:22.7px;font-weight:700;color:#fff;transform:scaleX(1.0963);">59</div>
<div class="t" style="left:864.40px;top:245.80px;font-size:12px;font-weight:400;color:#423d66;transform:scaleX(0.9526);">Important Emails</div>
<div class="t" style="left:1114.60px;top:196.40px;font-size:14.4px;font-weight:700;color:#fff;transform:scaleX(1.0310);">2,841</div>
<div class="t" style="left:1114.40px;top:216.40px;font-size:12px;font-weight:400;color:#423d66;transform:scaleX(0.9408);">Promotion Emails</div>
<div class="t" style="left:1115.50px;top:243.80px;font-size:14.4px;font-weight:700;color:#fff;transform:scaleX(1.0338);">1,456</div>
<div class="t" style="left:1114.40px;top:264.00px;font-size:12px;font-weight:400;color:#423d66;transform:scaleX(0.9062);">Spam Emails</div>
<div class="t" style="left:276.60px;top:345.30px;font-size:36px;font-weight:700;color:#fff;transform:scaleX(1.0409);">8,642</div>
<div class="t" style="left:276.60px;top:396.30px;font-size:12px;font-weight:700;color:#fff;transform:scaleX(0.8988);">Total emails that you have</div>
<div class="t" style="left:276.60px;top:423.50px;font-size:11.4px;font-weight:400;color:#dcdcdc;transform:scaleX(0.9710);">Lorem ipsum dolor sit amet, consectetur adipiscing elit, sed do</div>
<div class="t" style="left:276.60px;top:440.00px;font-size:11.4px;font-weight:400;color:#dcdcdc;transform:scaleX(0.9969);">eiusmod tempor incididunt ut labore et dolore</div>
<div class="t" style="left:295.00px;top:484.80px;font-size:12px;font-weight:700;color:#fff;transform:scaleX(0.8683);">+ Compose Email</div>
<div class="t" style="left:442.20px;top:484.80px;font-size:12px;font-weight:700;color:#fff;transform:scaleX(0.8620);">Go to inbox</div>
<div class="t" style="left:770.80px;top:348.80px;font-size:15.5px;font-weight:700;color:#fff;transform:scaleX(0.9059);">Conversation Statistics</div>
<div class="t" style="left:770.80px;top:377.00px;font-size:11px;font-weight:400;color:#33304f;transform:scaleX(1.0106);">Lorem ipsum dolor sit amet, consectetur adip</div>
<div class="t" style="left:1114.30px;top:356.50px;font-size:12px;font-weight:700;color:#fff;transform:scaleX(0.8748);">Save Report</div>
<div class="t" style="left:955.20px;top:414.50px;font-size:9.7px;font-weight:700;color:#fff;transform:scaleX(1.0878);">456</div>
<div class="t" style="left:976.40px;top:414.50px;font-size:9.7px;font-weight:400;color:#fff;transform:scaleX(1.0039);">Emails</div>
<div class="t" style="left:954.20px;top:431.20px;font-size:8.2px;font-weight:400;color:#f0f0f0;transform:scaleX(0.9893);">Oct 18th, 2020</div>
<div class="t" style="left:770.50px;top:504.30px;font-size:9.6px;font-weight:400;color:#33304f;transform:scaleX(1.0781);">Sunday</div>
<div class="t" style="left:828.60px;top:504.30px;font-size:9.6px;font-weight:400;color:#33304f;transform:scaleX(1.1068);">Monday</div>
<div class="t" style="left:889.80px;top:504.30px;font-size:9.6px;font-weight:400;color:#33304f;transform:scaleX(1.0558);">Tuesday</div>
<div class="t" style="left:952.30px;top:504.30px;font-size:9.6px;font-weight:400;color:#33304f;transform:scaleX(1.0730);">Wednesday</div>
<div class="t" style="left:1030.40px;top:504.30px;font-size:9.6px;font-weight:400;color:#33304f;transform:scaleX(1.0547);">Thursday</div>
<div class="t" style="left:1096.50px;top:504.30px;font-size:9.6px;font-weight:400;color:#33304f;transform:scaleX(1.0312);">Friday</div>
<div class="t" style="left:1147.70px;top:504.30px;font-size:9.6px;font-weight:400;color:#33304f;transform:scaleX(1.0907);">Saturday</div>
<div class="t" style="left:277.40px;top:582.90px;font-size:15px;font-weight:700;color:#fff;transform:scaleX(0.9293);">Contacts</div>
<div class="t" style="left:277.40px;top:611.50px;font-size:11px;font-weight:400;color:#37345a;transform:scaleX(0.9793);">You have <b style="color:#4c4674">456</b> contacts</div>
<div class="t" style="left:320.90px;top:647.40px;font-size:12.2px;font-weight:400;color:#fff;transform:scaleX(0.9108);">Angela Moss</div>
<div class="t" style="left:320.90px;top:666.80px;font-size:10.2px;font-weight:400;color:#3f3a64;transform:scaleX(0.9513);">Marketing Manager</div>
<div class="t" style="left:320.90px;top:700.90px;font-size:12.2px;font-weight:400;color:#fff;transform:scaleX(0.9147);">Andy Law</div>
<div class="t" style="left:320.90px;top:719.80px;font-size:10.2px;font-weight:400;color:#3f3a64;transform:scaleX(0.9297);">Graphic Designer</div>
<div class="t" style="left:524.40px;top:583.00px;font-size:15px;font-weight:700;color:#fff;transform:scaleX(0.9376);">Recent Emails</div>
<div class="t" style="left:524.40px;top:611.50px;font-size:11px;font-weight:400;color:#33304f;transform:scaleX(1.0200);">Lorem ipsum dolor sit amet</div>
<div class="t" style="left:918.90px;top:590.20px;font-size:12.2px;font-weight:400;color:#fff;transform:scaleX(0.9783);">Important</div>
<div class="t" style="left:1037.60px;top:590.20px;font-size:12.2px;font-weight:400;color:#423d66;transform:scaleX(0.8949);">Socials</div>
<div class="t" style="left:1120.70px;top:590.20px;font-size:12.2px;font-weight:400;color:#423d66;transform:scaleX(0.9445);">Promotion</div>
<div class="t" style="left:612.80px;top:658.70px;font-size:10.6px;font-weight:400;color:#45406c;transform:scaleX(0.9499);">kevinhard@mail.com</div>
<div class="t" style="left:714.20px;top:658.70px;font-size:10.6px;font-weight:400;color:#45406c;transform:scaleX(1.0805);">&bull;</div>
<div class="t" style="left:725.40px;top:658.70px;font-size:10.6px;font-weight:400;color:#45406c;transform:scaleX(0.9408);">24 min ago</div>
<div class="t" style="left:612.80px;top:677.50px;font-size:12px;font-weight:700;color:#fff;transform:scaleX(0.8899);">How to manage your working time in this pandemic</div>
<div class="t" style="left:613.00px;top:703.10px;font-size:10px;font-weight:400;color:#dcdcdc;transform:scaleX(0.9733);">Lorem ipsum dolor sit amet, consectetur adipiscing elit, sed do eiusmod tempor incididunt ut labore et</div>
<div class="t" style="left:613.00px;top:714.90px;font-size:10px;font-weight:400;color:#dcdcdc;transform:scaleX(0.9698);">dolore magna aliqua. Ut enim ad minim veniam, quis nostrud exercitation ullamco laboris nisi ...</div>
<div class="a" style="left:741.5px;top:19.8px;width:17px;height:17px;border-radius:50%;background:#5bc8fa;"></div>
<div class="t" style="left:741.5px;top:23.8px;width:17px;text-align:center;font-size:9.6px;font-weight:700;color:#14122a;">12</div>
<div class="a" style="left:782.2px;top:19.8px;width:17px;height:17px;border-radius:50%;background:#5bc8fa;"></div>
<div class="t" style="left:782.2px;top:23.8px;width:17px;text-align:center;font-size:9.6px;font-weight:700;color:#14122a;">5</div>
<div class="a" style="left:825.2px;top:19.8px;width:17px;height:17px;border-radius:50%;background:#5bc8fa;"></div>
<div class="t" style="left:825.2px;top:23.8px;width:17px;text-align:center;font-size:9.6px;font-weight:700;color:#14122a;">2</div>
<div class="a" style="left:866.5px;top:19.8px;width:17px;height:17px;border-radius:50%;background:#b3300f;box-shadow:0 0 0 1.6px #15122b;"></div>
<div class="t" style="left:866.5px;top:23.8px;width:17px;text-align:center;font-size:9.6px;font-weight:700;color:#2a0d05;">!</div>
</div></body></html>
